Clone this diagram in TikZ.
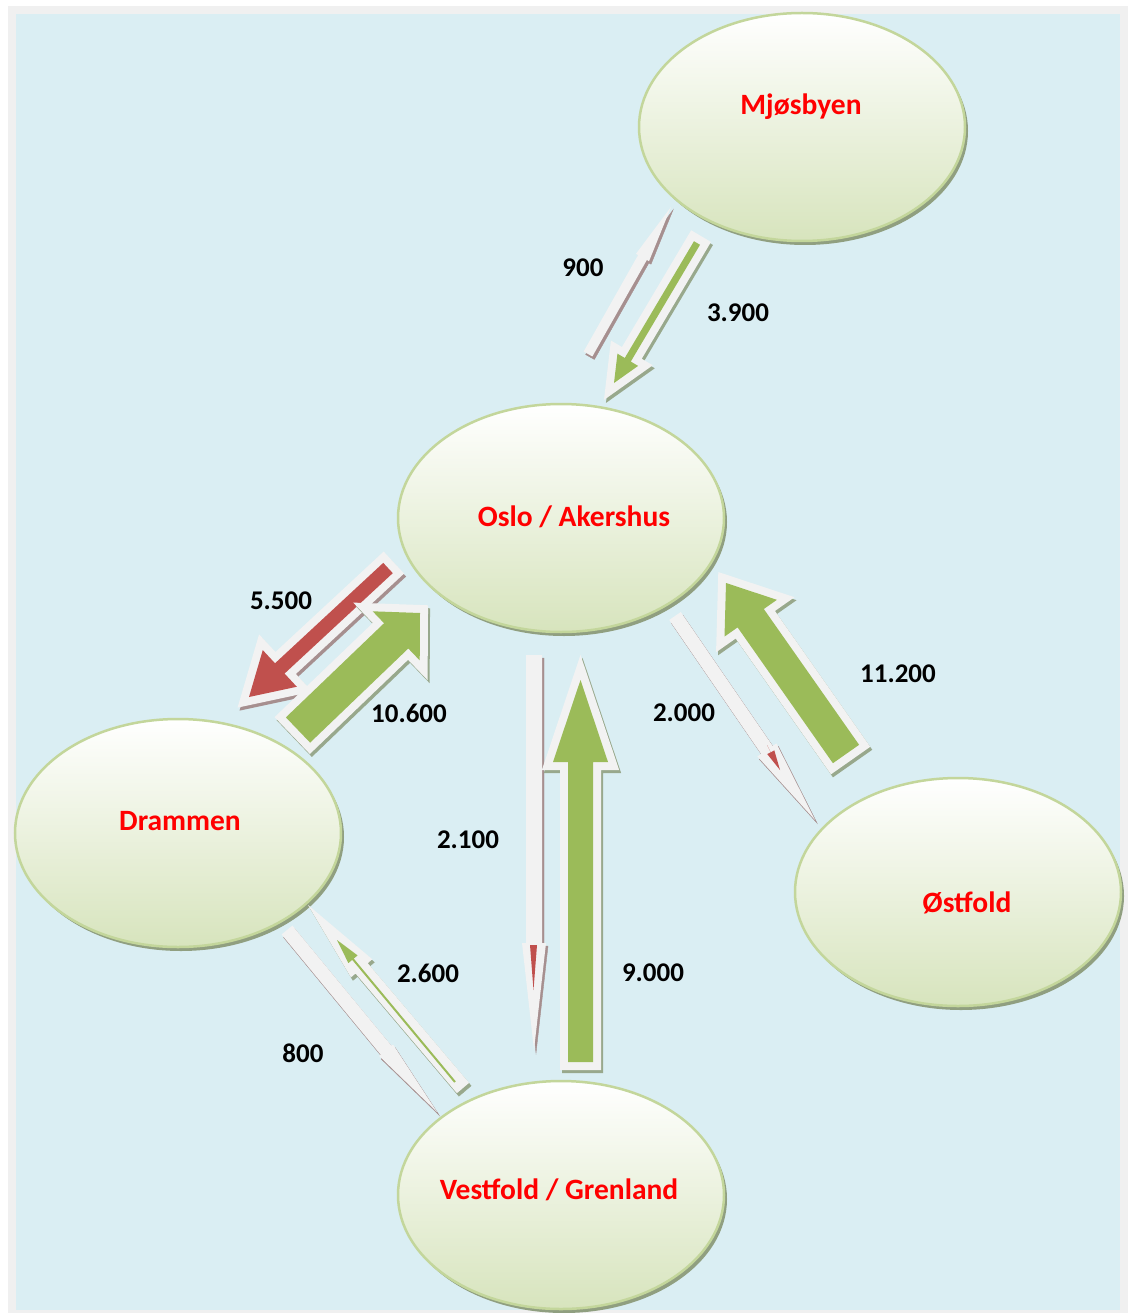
\documentclass[tikz,border=0pt]{standalone}
\usepackage{fontspec}
\setmainfont{Carlito}
\usetikzlibrary{shapes.geometric,calc,shadows}

\definecolor{bgblue}{HTML}{DAEEF3}
\definecolor{framegray}{HTML}{F0F0F0}
\definecolor{ellgreen}{HTML}{D7E4BD}
\definecolor{ellborder}{HTML}{C3D69B}
\definecolor{ellshadow}{HTML}{909F80}
\definecolor{flowgreen}{HTML}{9BBB59}
\definecolor{flowred}{HTML}{C0504D}
\definecolor{flowwhite}{HTML}{F2F2F2}
\definecolor{shgreen}{HTML}{98A88C}
\definecolor{shred}{HTML}{A68F8F}
\colorlet{outlinecol}{flowwhite}

% block arrow: style, tail, tip, half shaft, half head, head length
\newcommand{\arrowbody}[6]{%
	\coordinate (ab-t) at (#2);
	\coordinate (ab-h) at (#3);
	\coordinate (ab-b) at ($(ab-h)!#6!(ab-t)$);
	\path[#1] ($(ab-t)!#4!90:(ab-h)$) -- ($(ab-b)!#4!90:(ab-h)$) -- ($(ab-b)!#5!90:(ab-h)$) -- (ab-h)
		-- ($(ab-b)!#5!-90:(ab-h)$) -- ($(ab-b)!#4!-90:(ab-h)$) -- ($(ab-t)!#4!-90:(ab-h)$) -- cycle;}
% same with its shadow: style, shadow colour, tail, tip, half shaft, half head, head length
\newcommand{\flow}[7]{%
	\begin{scope}[transform canvas={shift={(2pt,-3pt)}}]
		\colorlet{outlinecol}{#2}
		\arrowbody{#1, fill=#2, draw=#2}{#3}{#4}{#5}{#6}{#7}
	\end{scope}
	\arrowbody{#1}{#3}{#4}{#5}{#6}{#7}}

\begin{document}
\begin{tikzpicture}[x=1pt,y=-1pt,line join=miter,miter limit=12,
	city/.style={ellipse, draw=ellborder, line width=2.5pt, minimum width=326pt, minimum height=228pt,
		top color=white, bottom color=ellgreen,
		drop shadow={shadow xshift=3pt, shadow yshift=-4pt, fill=ellshadow, opacity=1}},
	cityname/.style={text=red, font=\fontsize{29.5}{32}\selectfont\bfseries},
	amount/.style={text=black, font=\fontsize{27}{30}\selectfont\bfseries},
	thick/.style={fill=#1, preaction={draw=outlinecol, line width=16pt}},
	thin/.style={fill=flowwhite}]
	\useasboundingbox (0,0) rectangle (1133,1313);
	\fill[framegray] (8,6) rectangle (1128,1313);
	\fill[bgblue] (16,14) rectangle (1120,1310);

	\node[city] (mjos) at (802,127) {};
	\node[city] (oslo) at (561,518) {};
	\node[city] (dram) at (178,833) {};
	\node[city] (ost) at (958,892) {};
	\node[city] (vest) at (561,1195) {};

	\node[cityname] (mjos-n) at (801,107) {Mjøsbyen};
	\node[cityname] (oslo-n) at (574,517) {Oslo / Akershus};
	\node[cityname] (dram-n) at (180,821) {Drammen};
	\node[cityname] (ost-n) at (967,903) {Østfold};
	\node[cityname] (vest-n) at (559,1190) {Vestfold / Grenland};

	% flows
	\coordinate (om-t) at (588,354);
	\coordinate (om-h) at (671,207);
	\coordinate (mo-t) at (697,243);
	\coordinate (mo-h) at (614,383);
	\coordinate (od-t) at (388,568);
	\coordinate (od-h) at (249,697);
	\coordinate (do-t) at (298,730);
	\coordinate (do-h) at (420,613);
	\coordinate (ov-t) at (534,655);
	\coordinate (ov-h) at (534,1050);
	\coordinate (vo-t) at (580.5,1062);
	\coordinate (vo-h) at (580.5,680);
	\coordinate (oe-t) at (675,616);
	\coordinate (oe-h) at (815,820);
	\coordinate (eo-t) at (846,754);
	\coordinate (eo-h) at (726,583);
	\coordinate (dv-t) at (287,930);
	\coordinate (dv-h) at (437,1112);
	\coordinate (vd-t) at (463,1088);
	\coordinate (vd-h) at (308,905);

	\flow{thin}{shred}{om-t}{om-h}{5pt}{7.5pt}{58pt}
	\flow{thick=flowgreen}{shgreen}{mo-t}{mo-h}{3.5pt}{12pt}{27pt}
	\flow{thick=flowred}{shred}{od-t}{od-h}{7pt}{25pt}{42pt}
	\flow{thick=flowgreen}{shgreen}{do-t}{do-h}{17.5pt}{34pt}{33pt}
	\flow{thin}{shred}{ov-t}{ov-h}{8pt}{12pt}{107pt}
	\arrowbody{fill=flowred}{533.5,945}{533.5,990}{0pt}{3.5pt}{45pt}
	\flow{thick=flowgreen}{shgreen}{vo-t}{vo-h}{12.5pt}{27.5pt}{82pt}
	\flow{thin}{shred}{oe-t}{oe-h}{7pt}{11.5pt}{85pt}
	\arrowbody{fill=flowred}{767,745}{780,770}{0pt}{4pt}{20pt}
	\flow{thick=flowgreen}{shgreen}{eo-t}{eo-h}{16pt}{32pt}{43pt}
	\flow{thin}{shred}{dv-t}{dv-h}{7pt}{9pt}{80pt}
	\flow{thin}{shgreen}{vd-t}{vd-h}{8pt}{14pt}{83pt}
	\arrowbody{fill=flowgreen}{455,1082}{337,940}{1pt}{6pt}{25pt}

	\node[amount] (n-om) at (583,268) {900};
	\node[amount] (n-mo) at (738,313) {3.900};
	\node[amount] (n-od) at (281,601) {5.500};
	\node[amount] (n-do) at (409,713) {10.600};
	\node[amount] (n-eo) at (898,674) {11.200};
	\node[amount] (n-oe) at (684,713) {2.000};
	\node[amount] (n-ov) at (468,840) {2.100};
	\node[amount] (n-vo) at (653,973) {9.000};
	\node[amount] (n-vd) at (428,973) {2.600};
	\node[amount] (n-dv) at (303,1053) {800};
\end{tikzpicture}
\end{document}
